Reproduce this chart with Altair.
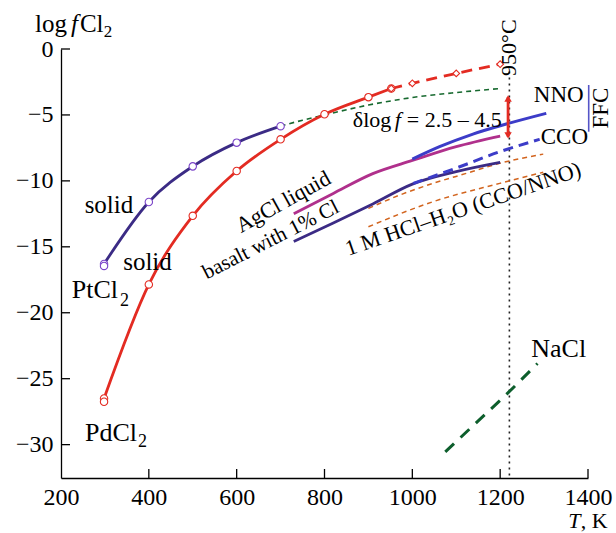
import altair as alt
import pandas as pd

FONT = "Liberation Serif"
Y_MIN = -32.53

# ---------------- data ----------------
x_ticks = [200, 400, 600, 800, 1000, 1200, 1400]
y_ticks = [0, -5, -10, -15, -20, -25, -30]

pt_T = [298, 400, 500, 600, 700]
pt_L = [-16.3, -11.6, -8.9, -7.1, -5.85]
pt_extra_T = [298]
pt_extra_L = [-16.45]

pd_T = [298, 400, 500, 600, 700, 800, 900, 952]
pd_L = [-26.5, -17.85, -12.65, -9.25, -6.85, -4.95, -3.65, -3.0]
pd_extra_T = [298]
pd_extra_L = [-26.75]

pdliq_T = [952, 1000, 1100, 1200]
pdliq_L = [-3.0, -2.6, -1.85, -1.15]

green_T = [700, 750, 800, 900, 1000, 1100, 1200]
green_L = [-5.84, -5.4, -5.0, -4.25, -3.68, -3.3, -3.0]

nno_T = [1000, 1062, 1138, 1214, 1305]
nno_L = [-8.35, -7.41, -6.45, -5.69, -4.88]

cco_T = [1002, 1108, 1199, 1290]
cco_L = [-10.19, -8.93, -7.79, -6.85]

agcl_T = [730, 820, 910, 1000, 1100, 1200]
agcl_L = [-12.5, -10.95, -9.45, -8.45, -7.4, -6.6]

basalt_T = [730, 820, 910, 1000, 1100, 1200]
basalt_L = [-14.6, -13.2, -11.75, -10.25, -9.3, -8.6]

hcl_hi_T = [900, 971, 1047, 1123, 1199, 1298]
hcl_hi_L = [-12.09, -11.08, -10.19, -9.43, -8.67, -7.97]

hcl_lo_T = [900, 1047, 1199, 1298]
hcl_lo_L = [-13.48, -11.58, -10.19, -9.35]

nacl_T = [1075, 1150, 1220, 1285]
nacl_L = [-30.55, -28.2, -26.0, -23.85]

t950 = 1221
dotted_L = [-1.7, Y_MIN]
arrow_T = 1218
arrow_L = [-3.4, -6.9]
ffc_T = 1401.6
ffc_L = [-2.73, -6.27]

# ---------------- helpers ----------------
xs = alt.Scale(domain=[200, 1400], nice=False, zero=False)
ys = alt.Scale(domain=[Y_MIN, 0], nice=False, zero=False)

xaxis = alt.Axis(values=x_ticks, title=None, grid=False, ticks=False, tickSize=0,
                 labelPadding=7, labelFont=FONT, labelFontSize=24, labelColor="black",
                 domainColor="black", domainWidth=1.3, labelFlush=False, format="d",
                 labelOverlap=False)
yaxis = alt.Axis(values=y_ticks, title=None, grid=False, ticks=False, tickSize=0,
                 labelPadding=8, labelFont=FONT, labelFontSize=24, labelColor="black",
                 domainColor="black", domainWidth=1.3, labelFlush=False, format="d",
                 labelOverlap=False)


def X(f="T"):
    return alt.X(f"{f}:Q", scale=xs, axis=xaxis)


def Y(f="L"):
    return alt.Y(f"{f}:Q", scale=ys, axis=yaxis)


def df(T, L):
    return pd.DataFrame({"T": T, "L": L})


def line(T, L, color, width=2.5, dash=None, interp="monotone"):
    kw = dict(color=color, strokeWidth=width, interpolate=interp, clip=False)
    if dash:
        kw["strokeDash"] = dash
    return alt.Chart(df(T, L)).mark_line(**kw).encode(x=X(), y=Y())


def pts(T, L, color, shape="circle", size=55):
    return alt.Chart(df(T, L)).mark_point(shape=shape, filled=True, fill="white",
                                           stroke=color, strokeWidth=1.1, size=size,
                                           opacity=1).encode(x=X(), y=Y())


def vrule(t, l0, l1, color, width=1.5, dash=None):
    kw = dict(color=color, strokeWidth=width)
    if dash:
        kw["strokeDash"] = dash
    d = pd.DataFrame({"T": [t], "a": [l0], "b": [l1]})
    return alt.Chart(d).mark_rule(**kw).encode(x=X(), y=Y("a"), y2="b")


def label(text, t, l, size=25, angle=0, align="center", baseline="middle", style="normal"):
    d = pd.DataFrame({"T": [t], "L": [l], "s": [text]})
    return alt.Chart(d).mark_text(font=FONT, fontSize=size, angle=angle, align=align,
                                  baseline=baseline, fontStyle=style, color="black").encode(
        x=X(), y=Y(), text="s:N")


# axis ticks (inward)
xt = pd.DataFrame({"T": x_ticks[1:], "a": [Y_MIN] * 6, "b": [Y_MIN + 9 / 13.18] * 6})
yt = pd.DataFrame({"L": y_ticks, "a": [200] * 7, "b": [200 + 9 / 0.4394] * 7})
xtick_layer = alt.Chart(xt).mark_rule(color="black", strokeWidth=1.3).encode(
    x=X(), y=Y("a"), y2="b")
ytick_layer = alt.Chart(yt).mark_rule(color="black", strokeWidth=1.3).encode(
    y=Y(), x=X("a"), x2="b")

PT = "#3b2b85"
PTM = "#7b45c9"
RED = "#e32b22"
GRN = "#17692f"
BLU = "#3c3cc8"
MAG = "#b0308c"
ORG = "#d2641e"
NGR = "#0d5e2c"

layers = [
    xtick_layer, ytick_layer,
    vrule(t950, dotted_L[0], dotted_L[1], "#222222", 1.6, [2, 4]),
    line(green_T, green_L, GRN, 1.6, [5, 4]),
    line(hcl_hi_T, hcl_hi_L, ORG, 1.5, [5, 4]),
    line(hcl_lo_T, hcl_lo_L, ORG, 1.5, [5, 4]),
    line(agcl_T, agcl_L, MAG, 2.8),
    line(basalt_T, basalt_L, PT, 2.8),
    line(nno_T, nno_L, BLU, 3.0),
    line(cco_T, cco_L, BLU, 3.0, [10, 6]),
    line(nacl_T, nacl_L, NGR, 3.0, [12, 9]),
    line(pt_T, pt_L, PT, 2.8),
    line(pd_T, pd_L, RED, 2.8),
    line(pdliq_T, pdliq_L, RED, 2.8, [11, 7]),
    pts(pt_T, pt_L, PTM),
    pts(pt_extra_T, pt_extra_L, PTM),
    pts(pd_T, pd_L, RED),
    pts(pd_extra_T, pd_extra_L, RED),
    pts(pdliq_T, pdliq_L, RED, "diamond", 45),
    vrule(arrow_T, -3.65, -6.65, RED, 2.8),
    alt.Chart(df([arrow_T], [-3.75])).mark_point(shape="triangle-up", filled=True,
                                                 color=RED, size=55, opacity=1).encode(x=X(), y=Y()),
    alt.Chart(df([arrow_T], [-6.55])).mark_point(shape="triangle-down", filled=True,
                                                 color=RED, size=55, opacity=1).encode(x=X(), y=Y()),
    vrule(ffc_T, ffc_L[0], ffc_L[1], "#5555c8", 1.6),
    # labels
    label("log", 140.8, 1.3, 25, align="left", baseline="alphabetic"),
    label("f", 223, 1.3, 25, align="left", baseline="alphabetic", style="italic"),
    label("Cl", 243, 1.3, 25, align="left", baseline="alphabetic"),
    label("2", 297.5, 0.88, 17, align="left", baseline="alphabetic"),
    label("solid", 309.2, -11.84, 25),
    label("solid", 396.9, -16.14, 25),
    label("PtCl", 224.4, -18.29, 26, align="left"),
    label("2", 334.3, -19.12, 18, align="left"),
    label("PdCl", 254.6, -29.14, 26, align="left"),
    label("2", 375.2, -29.82, 18, align="left"),
    label("NaCl", 1333.3, -22.78, 26),
    label("NNO", 1333.3, -3.49, 23),
    label("CCO", 1346.3, -6.65, 23),
    label("FFC", 1430.4, -4.48, 23, angle=270),
    label("δlog", 864.5, -5.39, 22, align="left"),
    label("f", 960, -5.39, 22, align="left", style="italic"),
    label("= 2.5 – 4.5", 987.5, -5.39, 22, align="left"),
    label("AgCl liquid", 706, -11.59, 22, angle=331),
    label("basalt with 1% Cl", 678, -14.49, 21, angle=333),
    label("1 M HCl–H₂O (CCO/NNO)", 1115.6, -12.14, 22, angle=341),
    label("950°C", 1219.6, 0.1, 22, angle=270),
    label("T", 1355, -36.34, 22, align="left", baseline="alphabetic", style="italic"),
    label(", K", 1383.4, -36.34, 22, align="left", baseline="alphabetic"),
]

chart = alt.layer(*layers).properties(
    width=527, height=429,
    autosize=alt.AutoSizeParams(type="none"),
    padding={"left": 61, "top": 49, "right": 28, "bottom": 55},
    background="white",
).configure_view(stroke=None).configure_axis(
    labelFont=FONT, labelFontSize=24, labelColor="black"
)

chart.save("out.html", embed_options={"renderer": "svg", "actions": False})
